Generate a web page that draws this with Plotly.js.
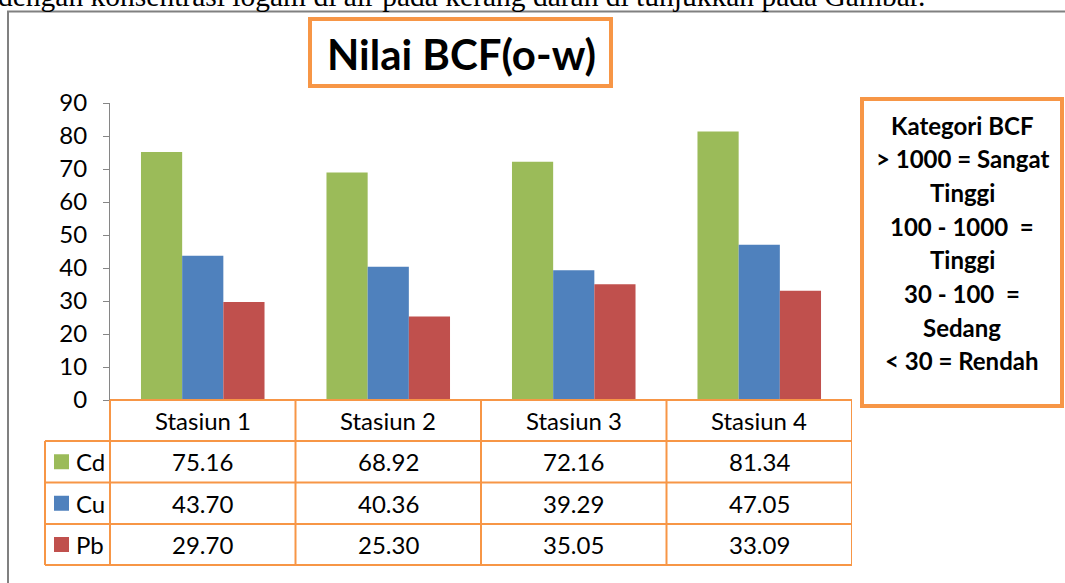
<!DOCTYPE html>
<html><head><meta charset="utf-8">
<script src="https://cdn.plot.ly/plotly-3.0.1.min.js"></script>
<style>html,body{margin:0;padding:0;background:#fff;}#chart{width:1065px;height:583px;}</style>
</head><body><div id="chart"></div>
<script>
const stations = ["Stasiun 1", "Stasiun 2", "Stasiun 3", "Stasiun 4"];
const seriesNames = ["Cd", "Cu", "Pb"];
const cdValues = [75.16, 68.92, 72.16, 81.34];
const cuValues = [43.70, 40.36, 39.29, 47.05];
const pbValues = [29.70, 25.30, 35.05, 33.09];
const yTicks = [0, 10, 20, 30, 40, 50, 60, 70, 80, 90];
const chartTitle = "Nilai BCF(o-w)";
const categoryLines = ["Kategori BCF", "> 1000 = Sangat", "Tinggi", "100 - 1000  =", "Tinggi", "30 - 100  =", "Sedang", "< 30 = Rendah"];
const topText = "dengan konsentrasi logam di air pada kerang darah di tunjukkan pada Gambar.";

const colors = ["#9BBB59", "#4F81BD", "#C0504D"];
const allValues = [cdValues, cuValues, pbValues];
const ORANGE = "#F79646";
const FONT = "Lato, 'Open Sans', sans-serif";

// plot area in pixels
const L = 110, R = 852, T = 103, B = 400;
const px = x => (x - L) / (R - L);
const py = y => (B - y) / (B - T);

const traces = seriesNames.map((n, i) => ({
  type: "bar", name: n, x: stations, y: allValues[i],
  marker: {color: colors[i]}, hoverinfo: "x+y"
}));

const shapes = [];
const annotations = [];

// outer frame
shapes.push({type: "rect", xref: "paper", yref: "paper", x0: px(8), x1: px(1075), y0: py(600), y1: py(11.5),
  line: {color: "#808080", width: 2}, layer: "below"});

// table lines
const rowY = [400, 441, 482.5, 524, 565];
shapes.push({type: "line", xref: "paper", yref: "paper", x0: px(110), x1: px(852), y0: py(rowY[0]), y1: py(rowY[0]), line: {color: ORANGE, width: 2}});
for (let r = 1; r < rowY.length; r++) {
  shapes.push({type: "line", xref: "paper", yref: "paper", x0: px(45), x1: px(852), y0: py(rowY[r]), y1: py(rowY[r]), line: {color: ORANGE, width: 2}});
}
shapes.push({type: "line", xref: "paper", yref: "paper", x0: px(110), x1: px(110), y0: py(400), y1: py(565), line: {color: ORANGE, width: 2}});
shapes.push({type: "line", xref: "paper", yref: "paper", x0: px(45), x1: px(45), y0: py(441), y1: py(565), line: {color: ORANGE, width: 2}});
for (let i = 0; i < stations.length; i++) {
  shapes.push({type: "line", xref: "x", yref: "paper", x0: i + 0.5, x1: i + 0.5, y0: py(400), y1: py(565), line: {color: ORANGE, width: 2}});
}

const TF = 24;
// header
stations.forEach((s, i) => {
  annotations.push({xref: "x", yref: "paper", x: i, y: py((rowY[0] + rowY[1]) / 2), text: s, showarrow: false,
    font: {family: FONT, size: TF, color: "#000"}, xanchor: "center", yanchor: "middle"});
});
// rows
seriesNames.forEach((n, r) => {
  const yc = (rowY[r + 1] + rowY[r + 2]) / 2;
  shapes.push({type: "rect", xref: "paper", yref: "paper", x0: px(54), x1: px(69), y0: py(yc - 7.5), y1: py(yc + 7.5),
    fillcolor: colors[r], line: {width: 0}});
  annotations.push({xref: "paper", yref: "paper", x: px(74), y: py(yc), text: n, showarrow: false,
    font: {family: FONT, size: TF, color: "#000"}, xanchor: "left", yanchor: "middle"});
  allValues[r].forEach((v, i) => {
    annotations.push({xref: "x", yref: "paper", x: i, y: py(yc), text: v.toFixed(2), showarrow: false,
      font: {family: FONT, size: TF, color: "#000"}, xanchor: "center", yanchor: "middle"});
  });
});

// title box
shapes.push({type: "rect", xref: "paper", yref: "paper", x0: px(310), x1: px(611), y0: py(86), y1: py(19),
  line: {color: ORANGE, width: 4}, fillcolor: "#fff"});
annotations.push({xref: "paper", yref: "paper", x: px(461), y: py(54), text: "<b>" + chartTitle + "</b>", showarrow: false,
  font: {family: FONT, size: 42, color: "#000"}, xanchor: "center", yanchor: "middle"});

// category box
shapes.push({type: "rect", xref: "paper", yref: "paper", x0: px(862), x1: px(1062), y0: py(406), y1: py(99),
  line: {color: ORANGE, width: 4}, fillcolor: "#fff"});
categoryLines.forEach((t, k) => {
  annotations.push({xref: "paper", yref: "paper", x: px(962), y: py(125 + k * 33.7), text: "<b>" + t.replace(/  /g, "&nbsp; ") + "</b>", showarrow: false,
    font: {family: FONT, size: 24, color: "#000"}, xanchor: "center", yanchor: "middle"});
});

// top cut-off text (line of the surrounding document, cropped at the top)
annotations.push({xref: "paper", yref: "paper", x: px(-4), y: py(-4), text: topText, showarrow: false,
  font: {family: "'Liberation Serif', 'Times New Roman', serif", size: 29.5, color: "#000"}, xanchor: "left", yanchor: "middle"});

const layout = {
  width: 1065, height: 583,
  margin: {l: L, r: 1065 - R, t: T, b: 583 - B, pad: 0},
  paper_bgcolor: "#fff", plot_bgcolor: "#fff",
  showlegend: false,
  barmode: "group", bargap: 0.334, bargroupgap: 0,
  xaxis: {type: "category", range: [-0.5, 3.5], showticklabels: false, ticks: "", showline: false, showgrid: false, zeroline: false, fixedrange: true},
  yaxis: {range: [0, 90], tickvals: yTicks, ticktext: yTicks.map(String), showline: true, linecolor: "#868686", linewidth: 1,
    ticks: "outside", ticklen: 6, tickcolor: "#868686", showgrid: false, zeroline: false, ticklabelstandoff: 11,
    tickfont: {family: FONT, size: 24, color: "#000"}, fixedrange: true},
  shapes: shapes, annotations: annotations,
  font: {family: FONT}
};
Plotly.newPlot("chart", traces, layout, {displayModeBar: false, staticPlot: true});
</script></body></html>
